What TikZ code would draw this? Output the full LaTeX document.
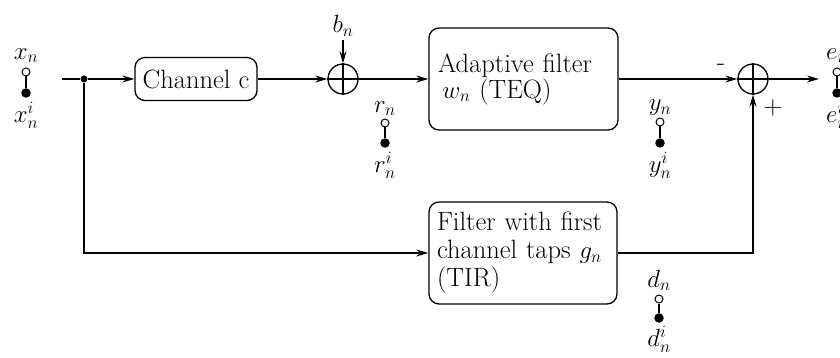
\documentclass[tikz,border=0pt]{standalone}
\usetikzlibrary{arrows.meta}
\begin{document}
\begin{tikzpicture}[x=1pt,y=-1pt,
  font=\fontsize{26.5}{28}\selectfont,
  ln/.style={line width=1.3pt},
  arr/.style={ln,-{Stealth[length=12pt,width=7pt]}},
  blk/.style={draw,ln,rounded corners=10pt,inner ysep=0pt},
  sumc/.style={draw,circle,ln,minimum size=30pt,inner sep=0pt},
  opn/.style={draw,circle,line width=1pt,minimum size=8pt,inner sep=0pt,fill=white},
  fld/.style={fill,circle,minimum size=9.5pt,inner sep=0pt},
  dotj/.style={fill,circle,minimum size=7pt,inner sep=0pt},
  lbl/.style={inner sep=0pt},
  top/.style={lbl,anchor=south},
  bot/.style={lbl,anchor=north}]
\useasboundingbox (0,0) rectangle (840,358);

% blocks
\node[blk,minimum width=122pt,minimum height=43pt,inner xsep=0pt] (ch) at (196,79) {Channel c};
\node[blk,minimum width=189pt,minimum height=102pt,inner xsep=9pt,text width=171pt,align=left,
      font=\fontsize{26.5}{26}\selectfont] (af) at (523.5,79) {Adaptive filter\\ \,$w_n$ (TEQ)};
\node[blk,minimum width=188pt,minimum height=102pt,inner xsep=8pt,text width=172pt,align=left,
      font=\fontsize{26.5}{28}\selectfont] (tir) at (523,253) {Filter with first\\ channel taps $g_n$\\ (TIR)};

% summing junctions
\node[sumc] (s1) at (343,79) {};
\node[sumc] (s2) at (753,79) {};
\draw[ln] (s1.north) -- (s1.south) (s1.west) -- (s1.east);
\draw[ln] (s2.north) -- (s2.south) (s2.west) -- (s2.east);

% input and junction
\coordinate (in) at (62,79);
\node[dotj] (j) at (84,79) {};
\coordinate (jb) at (84,253);
\coordinate (out) at (819,79);
\coordinate (tb) at (753,253);

% b_n
\node[lbl] (bn) at (343,26) {$b_n$};
\draw[arr] (bn.south) ++(0,3) coordinate (bnt) -- (s1.north);

% connectors
\draw[ln] (in) -- (j);
\draw[arr] (j) -- (ch.west);
\draw[arr] (ch.east) -- (s1.west);
\draw[arr] (s1.east) -- (af.west);
\draw[arr] (af.east) -- (s2.west);
\draw[arr] (s2.east) -- (out);
\draw[arr] (j) -- (jb) -- (tir.west);
\draw[arr] (tir.east) -- (tb) -- (s2.south);

% signs
\node[lbl] (minus) at (721,67) {-};
\node[lbl] (plus) at (773,108) {+};

% probe stacks
\node[top] (xl) at (26,63) {$x_n$};
\node[opn] (xo) at (26,72) {};
\node[fld] (xf) at (26,93) {};
\node[bot] (xi) at (26,102) {$x_n^i$};
\draw[ln] (xo) -- (xf);

\node[top] (rl) at (385,116) {$r_n$};
\node[opn] (ro) at (385,123) {};
\node[fld] (rf) at (385,143) {};
\node[bot] (ri) at (385,152) {$r_n^i$};
\draw[ln] (ro) -- (rf);

\node[top] (yl) at (660,116) {$y_n$};
\node[opn] (yo) at (660,122) {};
\node[fld] (yf) at (660,143) {};
\node[bot] (yi) at (660,152) {$y_n^i$};
\draw[ln] (yo) -- (yf);

\node[top] (dl) at (659,291) {$d_n$};
\node[opn] (do) at (659,299) {};
\node[fld] (df) at (659,318) {};
\node[bot] (di) at (659,326) {$d_n^i$};
\draw[ln] (do) -- (df);

\node[lbl,anchor=south west] (el) at (826,63) {$e_n$};
\node[opn] (eo) at (837,72) {};
\node[fld] (ef) at (837,93) {};
\node[lbl,anchor=north west] (ei) at (826,102) {$e_n^i$};
\draw[ln] (eo) -- (ef);
\end{tikzpicture}
\end{document}
